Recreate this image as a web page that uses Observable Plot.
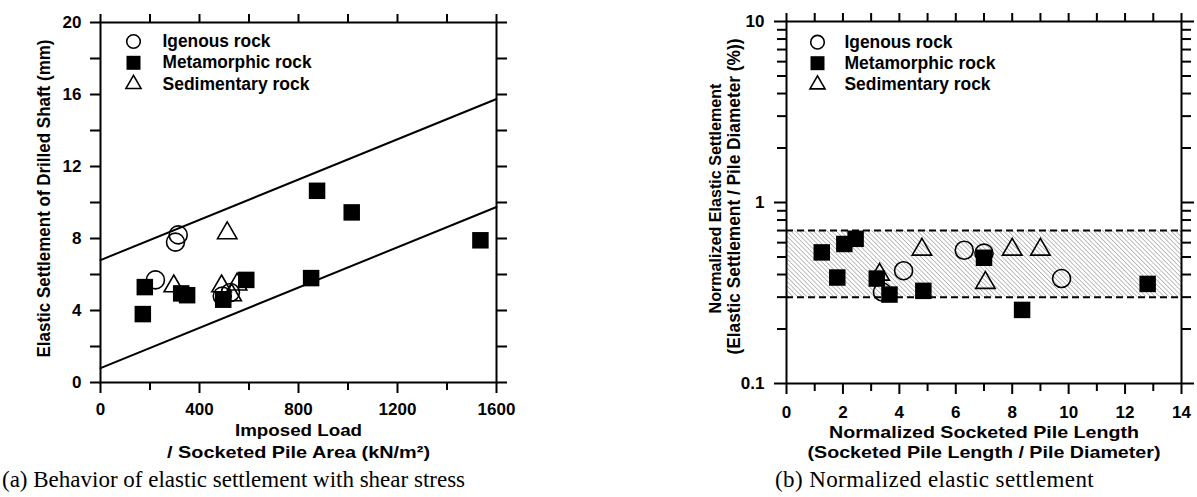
<!DOCTYPE html>
<html><head><meta charset="utf-8">
<script src="https://cdn.jsdelivr.net/npm/d3@7"></script>
<script src="https://cdn.jsdelivr.net/npm/@observablehq/plot@0.6"></script>
<style>
body{margin:0;background:#fff;}
#wrap{position:relative;width:1197px;height:497px;overflow:hidden;background:#fff;}
.panel{position:absolute;top:0;}
.cap{position:absolute;font-family:"Liberation Serif","Times New Roman",serif;font-size:23px;color:#000;white-space:nowrap;line-height:1;}
</style></head><body>
<div id="wrap">
<div id="pa" class="panel" style="left:0"></div>
<div id="pb" class="panel" style="left:600px"></div>
<div class="cap" style="left:2px;top:468px">(a) Behavior of elastic settlement with shear stress</div>
<div class="cap" style="left:775px;top:468px;letter-spacing:0.4px">(b) Normalized elastic settlement</div>
</div>
<script>
// ---------- Panel (a): imposed load vs elastic settlement ----------
const seriesNames = ["Igenous rock", "Metamorphic rock", "Sedimentary rock"];

const aIgneousX = [314, 303, 222, 492, 525];
const aIgneousY = [8.2, 7.8, 5.7, 4.8, 5.0];
const aMetaX = [875, 1015, 1535, 851, 589, 179, 171, 326, 350, 496];
const aMetaY = [10.65, 9.45, 7.9, 5.8, 5.7, 5.3, 3.8, 4.95, 4.85, 4.6];
const aSedX = [512, 296, 489, 552, 530];
const aSedY = [8.3, 5.35, 5.35, 5.45, 4.85];

const aBoundX = [0, 1600];
const aUpperY = [6.8, 15.75];
const aLowerY = [0.8, 9.75];

const aXMajor = [0, 400, 800, 1200, 1600];
const aXMinor = [200, 600, 1000, 1400];
const aYMajor = [0, 4, 8, 12, 16, 20];
const aYMinor = [2, 6, 10, 14, 18];

// ---------- Panel (b): normalized length vs normalized settlement ----------
const bIgneousX = [6.3, 7.0, 4.15, 3.4, 9.75];
const bIgneousY = [0.545, 0.525, 0.42, 0.32, 0.38];
const bMetaX = [1.25, 2.05, 2.45, 1.8, 3.2, 3.65, 4.85, 7.0, 8.35, 12.8];
const bMetaY = [0.53, 0.59, 0.63, 0.385, 0.38, 0.31, 0.325, 0.495, 0.255, 0.355];
const bSedX = [4.8, 8.0, 9.0, 7.05, 3.3];
const bSedY = [0.55, 0.55, 0.55, 0.36, 0.40];

const bBand = [0.3, 0.7];
const bXDomain = [0, 14];
const bXMajor = [0, 2, 4, 6, 8, 10, 12, 14];
const bXMinor = [1, 3, 5, 7, 9, 11, 13];
const bYMajor = [0.1, 1, 10];
const bYMinor = [0.2,0.3,0.4,0.5,0.6,0.7,0.8,0.9,2,3,4,5,6,7,8,9];

const zip = (xs, ys) => xs.map((x, i) => ({x, y: ys[i]}));

const FONT = "'Liberation Sans', Arial, Helvetica, sans-serif";
const style = {fontFamily: FONT, fontWeight: "bold", fontSize: "17px", color: "#000", background: "transparent", overflow: "visible"};
const blank = () => "";
const num = d => String(d);

function ticksX(anchor, ticks, size, withText, pad) {
  return Plot.axisX({anchor, ticks, tickSize: size, tickPadding: pad || 3, strokeWidth: 2, label: null,
    tickFormat: withText ? num : blank, fontSize: 17, fill: "black", stroke: "black"});
}
function ticksY(anchor, ticks, size, withText, pad) {
  return Plot.axisY({anchor, ticks, tickSize: size, tickPadding: pad || 3, strokeWidth: 2, label: null,
    tickFormat: withText ? num : blank, fontSize: 17, fill: "black", stroke: "black"});
}
function title(str, opts) {
  return Plot.text([str], {text: d => d, lineAnchor: "middle", textAnchor: "middle", fontWeight: "bold", fill: "black", ...opts});
}

function legendMarks(dxSym, dxText, dys, sizes) {
  const m = [];
  const syms = [
    {symbol: "circle", fill: "none", stroke: "black", r: sizes[0]},
    {symbol: "square", fill: "black", stroke: "none", r: sizes[1]},
    {symbol: "triangle", fill: "none", stroke: "black", r: sizes[2]}
  ];
  seriesNames.forEach((name, i) => {
    m.push(Plot.dot([name], {frameAnchor: "top-left", dx: dxSym, dy: dys[i], strokeWidth: 1.6, ...syms[i]}));
    m.push(Plot.text([name], {frameAnchor: "top-left", dx: dxText, dy: dys[i], text: d => d, textAnchor: "start", lineAnchor: "middle", fontSize: 17.5, fontWeight: "bold", fill: "black"}));
  });
  return m;
}

// stretch a text to the width it has in the figure
function fit(svg, widths) {
  svg.querySelectorAll("text").forEach(t => {
    const w = widths[t.textContent];
    if (w) { t.setAttribute("textLength", w); t.setAttribute("lengthAdjust", "spacingAndGlyphs"); }
  });
}

const plotA = Plot.plot({
  width: 600, height: 497,
  marginTop: 22, marginBottom: 115, marginLeft: 100, marginRight: 104,
  style,
  x: {domain: [0, 1600], axis: null},
  y: {domain: [0, 20], axis: null},
  marks: [
    Plot.line(zip(aBoundX, aUpperY), {x: "x", y: "y", stroke: "black", strokeWidth: 2}),
    Plot.line(zip(aBoundX, aLowerY), {x: "x", y: "y", stroke: "black", strokeWidth: 2}),
    Plot.dot(zip(aIgneousX, aIgneousY), {x: "x", y: "y", symbol: "circle", r: 9, fill: "none", stroke: "black", strokeWidth: 1.6}),
    Plot.dot(zip(aSedX, aSedY), {x: "x", y: "y", symbol: "triangle", r: 7.2, fill: "none", stroke: "black", strokeWidth: 1.6}),
    Plot.dot(zip(aMetaX, aMetaY), {x: "x", y: "y", symbol: "square", r: 9.3, fill: "black", stroke: "none"}),
    Plot.frame({stroke: "black", strokeWidth: 2}),
    ticksX("bottom", aXMajor, 11, true, 9),
    ticksX("bottom", aXMinor, 8, false),
    ticksX("top", aXMajor.concat(aXMinor), 9, false),
    ticksY("left", aYMajor, 10, true, 9),
    ticksY("left", aYMinor, 10, false),
    ticksY("right", aYMajor.concat(aYMinor), 10, false),
    title("Imposed Load", {frameAnchor: "bottom", dy: 48, fontSize: 17}),
    title("/ Socketed Pile Area (kN/m²)", {frameAnchor: "bottom", dy: 70, fontSize: 17}),
    title("Elastic Settlement of Drilled Shaft (mm)", {frameAnchor: "left", dx: -56, dy: -4, rotate: -90, fontSize: 18}),
    ...legendMarks(33, 62, [19, 40.3, 61.6], [6.8, 7.9, 5.6])
  ]
});
fit(plotA, {
  "Imposed Load": 127,
  "/ Socketed Pile Area (kN/m²)": 263,
  "Elastic Settlement of Drilled Shaft (mm)": 318,
  "Igenous rock": 108, "Metamorphic rock": 149, "Sedimentary rock": 147
});
document.getElementById("pa").appendChild(plotA);

const plotB = Plot.plot({
  width: 597, height: 497,
  marginTop: 21, marginBottom: 114, marginLeft: 186, marginRight: 16,
  style,
  x: {domain: bXDomain, axis: null},
  y: {type: "log", domain: [0.1, 10], axis: null},
  marks: [
    Plot.rect([bBand], {x1: () => bXDomain[0], x2: () => bXDomain[1], y1: d => d[0], y2: d => d[1], fill: "url(#hatchB)"}),
    Plot.ruleY(bBand, {stroke: "black", strokeWidth: 2, strokeDasharray: "7,4"}),
    Plot.dot(zip(bIgneousX, bIgneousY), {x: "x", y: "y", symbol: "circle", r: 9, fill: "none", stroke: "black", strokeWidth: 1.6}),
    Plot.dot(zip(bSedX, bSedY), {x: "x", y: "y", symbol: "triangle", r: 7.2, fill: "none", stroke: "black", strokeWidth: 1.6}),
    Plot.dot(zip(bMetaX, bMetaY), {x: "x", y: "y", symbol: "square", r: 9.3, fill: "black", stroke: "none"}),
    Plot.frame({stroke: "black", strokeWidth: 2}),
    ticksX("bottom", bXMajor, 11, true, 11),
    ticksX("bottom", bXMinor, 8, false),
    ticksX("top", bXMajor.concat(bXMinor), 9, false),
    ticksY("left", bYMajor, 12, true, 10),
    ticksY("left", bYMinor, 9, false),
    ticksY("right", bYMajor, 12, false),
    ticksY("right", bYMinor, 9, false),
    title("Normalized Socketed Pile Length", {frameAnchor: "bottom", dy: 49, fontSize: 17}),
    title("(Socketed Pile Length / Pile Diameter)", {frameAnchor: "bottom", dy: 69, fontSize: 17}),
    title("Normalized Elastic Settlement", {frameAnchor: "left", dx: -71, dy: -4, rotate: -90, fontSize: 17}),
    title("(Elastic Settlement / Pile Diameter (%))", {frameAnchor: "left", dx: -52, dy: -6, rotate: -90, fontSize: 17.5}),
    ...legendMarks(31, 58, [20.7, 41.7, 63], [6.8, 7.9, 5.6])
  ]
});
fit(plotB, {
  "Normalized Socketed Pile Length": 310,
  "(Socketed Pile Length / Pile Diameter)": 353,
  "Normalized Elastic Settlement": 230,
  "(Elastic Settlement / Pile Diameter (%))": 316,
  "Igenous rock": 108, "Metamorphic rock": 151, "Sedimentary rock": 146
});
// hatch pattern definition for the band
const ns = "http://www.w3.org/2000/svg";
const defs = document.createElementNS(ns, "defs");
defs.innerHTML = '<pattern id="hatchB" patternUnits="userSpaceOnUse" width="3.2" height="3.2" patternTransform="rotate(-45)"><rect width="3.2" height="3.2" fill="white"/><line x1="0" y1="0" x2="0" y2="3.2" stroke="#8a8a8a" stroke-width="1.1"/></pattern>';
plotB.insertBefore(defs, plotB.firstChild);
document.getElementById("pb").appendChild(plotB);
</script>
</body></html>
